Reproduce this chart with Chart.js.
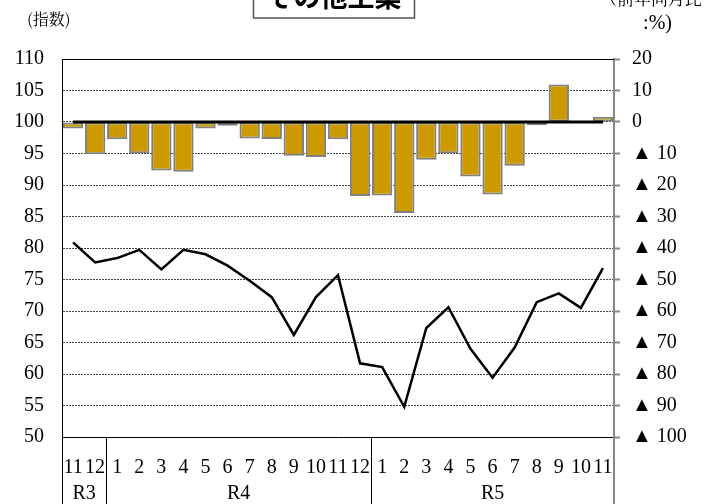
<!DOCTYPE html>
<html>
<head>
  <meta charset="utf-8">
  <title>その他工業</title>
  <script src="https://cdn.jsdelivr.net/npm/chart.js@4.4.1/dist/chart.umd.min.js"></script>
  <style>
    html, body { margin: 0; padding: 0; background: #fff; }
    #wrap { width: 710px; height: 504px; }
  </style>
</head>
<body>
  <div id="wrap"><canvas id="industryChart" width="710" height="504"></canvas></div>

  <script>
    // month labels along the bottom
    const months = ['11','12','1','2','3','4','5','6','7','8','9','10','11','12','1','2','3','4','5','6','7','8','9','10','11'];
    // year groups under the months
    const groupLabels = ['R3', 'R4', 'R5'];
    const groupStarts = [0, 2, 14];
    const groupEnds = [1, 13, 24];
    // index (left axis)
    const indexValues = [80.9, 77.7, 78.4, 79.7, 76.6, 79.7, 79.0, 77.2, 74.8, 72.2, 66.2, 72.2, 75.7,
                         61.7, 61.1, 54.8, 67.3, 70.6, 64.0, 59.4, 64.2, 71.4, 72.8, 70.5, 76.8];
    // year-on-year change, % (right axis)
    const yoyValues = [-2.1, -10.2, -5.5, -9.9, -15.4, -15.8, -2.1, -1.2, -5.2, -5.4, -10.7, -11.1, -5.5,
                       -23.5, -23.3, -28.9, -12.0, -9.9, -17.3, -23.0, -13.9, -1.0, 11.9, -0.3, 1.7];
    const zeroLine = [0,0,0,0,0,0,0,0,0,0,0,0,0,0,0,0,0,0,0,0,0,0,0,0,0];

    const numFont = "'Liberation Serif'";
    const jpFont = "'Noto Serif CJK JP', 'Noto Sans CJK JP'";
    const titleFont = "'Noto Sans CJK JP'";

    Chart.defaults.font.family = numFont;

    const decorPlugin = {
      id: 'decor',
      afterDraw(chart) {
        const ctx = chart.ctx;
        const area = chart.chartArea;
        const x = chart.scales.x;
        const half = (x.getPixelForValue(1) - x.getPixelForValue(0)) / 2;
        const H = chart.height;
        ctx.save();

        // solid top frame line
        ctx.strokeStyle = '#000';
        ctx.lineWidth = 1;
        ctx.beginPath();
        ctx.moveTo(area.left, area.top + 0.5);
        ctx.lineTo(area.right, area.top + 0.5);
        ctx.stroke();

        // separators below the axis
        groupStarts.forEach(i => {
          const px = Math.round(x.getPixelForValue(i) - half) + 0.5;
          ctx.beginPath();
          ctx.moveTo(px, area.bottom);
          ctx.lineTo(px, H);
          ctx.stroke();
        });
        ctx.strokeStyle = '#888';
        ctx.lineWidth = 2;
        const rx = x.getPixelForValue(months.length - 1) + half;
        ctx.beginPath();
        ctx.moveTo(rx, area.bottom);
        ctx.lineTo(rx, H);
        ctx.stroke();

        // year labels
        ctx.fillStyle = '#000';
        ctx.font = '20px ' + numFont;
        ctx.textAlign = 'center';
        ctx.textBaseline = 'middle';
        groupLabels.forEach((lab, k) => {
          const cx = (x.getPixelForValue(groupStarts[k]) + x.getPixelForValue(groupEnds[k])) / 2;
          ctx.fillText(lab, cx, 494);
        });

        // title box, partly cut off at the top
        ctx.fillStyle = '#fff';
        ctx.fillRect(253, -20, 161, 38);
        ctx.strokeStyle = '#555';
        ctx.lineWidth = 1.5;
        ctx.strokeRect(253.5, -20, 161, 38);
        ctx.fillStyle = '#000';
        ctx.font = 'bold 27px ' + titleFont;
        ctx.fillText('その他工業', 334, -3);

        // axis captions
        ctx.font = '16px ' + jpFont;
        ctx.textAlign = 'left';
        ctx.fillText('(指数)', 27, 19);
        ctx.font = '17px ' + jpFont;
        ctx.textAlign = 'right';
        ctx.fillText('（前年同月比', 702, -1);
        ctx.font = '20px ' + numFont;
        ctx.fillText(':%)', 672, 24);
        ctx.restore();
      }
    };

    const ctx = document.getElementById('industryChart').getContext('2d');
    new Chart(ctx, {
      data: {
        labels: months,
        datasets: [
          {
            type: 'line',
            label: '0',
            data: zeroLine,
            yAxisID: 'y1',
            borderColor: '#000',
            borderWidth: 3,
            pointRadius: 0,
            order: 0
          },
          {
            type: 'line',
            label: '指数',
            data: indexValues,
            yAxisID: 'y',
            borderColor: '#000',
            borderWidth: 2.5,
            pointRadius: 0,
            tension: 0,
            order: 1
          },
          {
            type: 'bar',
            label: '前年同月比',
            data: yoyValues,
            yAxisID: 'y1',
            backgroundColor: '#CC9900',
            borderColor: '#808080',
            borderWidth: 2,
            borderSkipped: false,
            barPercentage: 0.92,
            categoryPercentage: 1.0,
            order: 2
          }
        ]
      },
      options: {
        responsive: false,
        animation: false,
        layout: { padding: { top: 59, left: 0, right: 0, bottom: 0 } },
        plugins: {
          legend: { display: false },
          tooltip: { enabled: false }
        },
        scales: {
          x: {
            offset: true,
            grid: { display: false, drawTicks: false },
            border: { display: true, color: '#000', width: 1 },
            ticks: {
              color: '#000',
              font: { family: numFont, size: 20 },
              padding: 19,
              maxRotation: 0,
              autoSkip: false
            },
            afterFit(scale) { scale.height = 67; }
          },
          y: {
            position: 'left',
            min: 50,
            max: 110,
            grid: {
              drawTicks: false,
              color: c => (c.tick && (c.tick.value === 110 || c.tick.value === 50)) ? 'rgba(0,0,0,0)' : '#444',
              lineWidth: 1
            },
            border: { display: true, color: '#000', width: 1, dash: [2, 1] },
            ticks: {
              stepSize: 5,
              color: '#000',
              font: { family: numFont, size: 20 },
              padding: 18
            },
            afterFit(scale) { scale.width = 62; }
          },
          y1: {
            position: 'right',
            min: -100,
            max: 20,
            grid: {
              drawOnChartArea: false,
              drawTicks: true,
              tickLength: 6,
              tickColor: '#888',
              tickWidth: 2
            },
            border: { display: true, color: '#888', width: 2 },
            ticks: {
              stepSize: 10,
              color: '#000',
              font: { family: numFont, size: 20 },
              padding: 12,
              callback: v => v < 0 ? '▲ ' + (-v) : String(v)
            },
            afterFit(scale) { scale.width = 96; }
          }
        }
      },
      plugins: [decorPlugin]
    });
  </script>
</body>
</html>
